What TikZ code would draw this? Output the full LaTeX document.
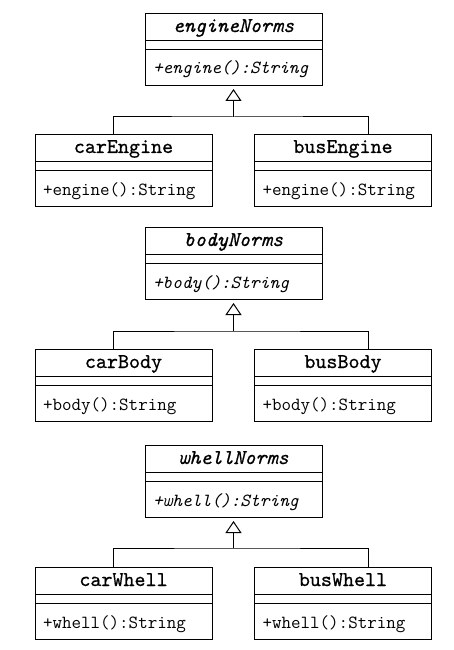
\documentclass[tikz,border=0pt]{standalone}
\usepackage{fontspec}
\usetikzlibrary{shapes.multipart,arrows.meta}

\newfontfamily\umltitlefont{lmmono10-regular.otf}[ItalicFont=lmmono10-italic.otf,FakeBold=0.7]
\newcommand\umltitle[1]{\umltitlefont\fontsize{21}{21}\selectfont\rule[-8pt]{0pt}{26pt}#1}
\newcommand\umlop[1]{\ttfamily\fontsize{18.5}{18.5}\selectfont\rule[-11pt]{0pt}{35pt}#1}

\begin{document}
\begin{tikzpicture}[x=1pt,y=1pt,
    umlclass/.style={draw,line width=1pt,rectangle split,rectangle split parts=3,
      rectangle split part align={center,left,left},
      rectangle split empty part height=8pt,rectangle split empty part depth=0pt,
      minimum width=177pt,inner ysep=0pt,inner xsep=8pt,anchor=north},
    bar/.style={line width=1pt},
    inherit/.style={line width=1pt,-{Triangle[open,width=16pt,length=12pt]}}]
  \useasboundingbox (0,0) rectangle (454,-650);

  \node[umlclass] (engineNorms) at (233.5,-13)
    {\umltitle{\itshape engineNorms}\nodepart{two}\nodepart{three}\umlop{\itshape +engine():String}};
  \node[umlclass] (carEngine) at (123.5,-134)
    {\umltitle{carEngine}\nodepart{two}\nodepart{three}\umlop{+engine():String}};
  \node[umlclass] (busEngine) at (343,-134)
    {\umltitle{busEngine}\nodepart{two}\nodepart{three}\umlop{+engine():String}};
  \coordinate (engineJoin) at ([yshift=-31pt]engineNorms.south);
  \draw[bar] ([xshift=-10.5pt]carEngine.north) |- (engineJoin) -| ([xshift=25pt]busEngine.north);
  \draw[inherit] (engineJoin) -- ([yshift=-3pt]engineNorms.south);

  \node[umlclass] (bodyNorms) at (233.5,-227)
    {\umltitle{\itshape bodyNorms}\nodepart{two}\nodepart{three}\umlop{\itshape +body():String}};
  \node[umlclass] (carBody) at (123.5,-349)
    {\umltitle{carBody}\nodepart{two}\nodepart{three}\umlop{+body():String}};
  \node[umlclass] (busBody) at (343,-349)
    {\umltitle{busBody}\nodepart{two}\nodepart{three}\umlop{+body():String}};
  \coordinate (bodyJoin) at ([yshift=-31pt]bodyNorms.south);
  \draw[bar] ([xshift=-10.5pt]carBody.north) |- (bodyJoin) -| ([xshift=25pt]busBody.north);
  \draw[inherit] (bodyJoin) -- ([yshift=-3pt]bodyNorms.south);

  \node[umlclass] (whellNorms) at (233.5,-445)
    {\umltitle{\itshape whellNorms}\nodepart{two}\nodepart{three}\umlop{\itshape +whell():String}};
  \node[umlclass] (carWhell) at (123.5,-567)
    {\umltitle{carWhell}\nodepart{two}\nodepart{three}\umlop{+whell():String}};
  \node[umlclass] (busWhell) at (343,-567)
    {\umltitle{busWhell}\nodepart{two}\nodepart{three}\umlop{+whell():String}};
  \coordinate (whellJoin) at ([yshift=-30pt]whellNorms.south);
  \draw[bar] ([xshift=-10.5pt]carWhell.north) |- (whellJoin) -| ([xshift=25pt]busWhell.north);
  \draw[inherit] (whellJoin) -- ([yshift=-3pt]whellNorms.south);
\end{tikzpicture}
\end{document}
